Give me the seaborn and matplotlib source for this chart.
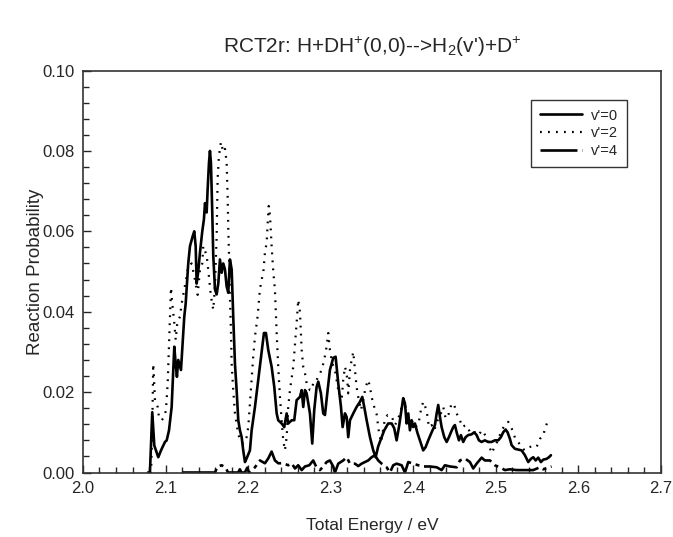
import numpy as np
import pandas as pd
import seaborn as sns
import matplotlib.pyplot as plt
from matplotlib.ticker import MultipleLocator

# v'=0 (solid)
e_v0 = [2.0787, 2.0811, 2.0839, 2.0864, 2.0912, 2.0945, 2.0993, 2.1014, 2.1042, 2.1074,
        2.1106, 2.1123, 2.1138, 2.1154, 2.1187, 2.1207, 2.1227, 2.1244, 2.1275, 2.1296,
        2.1329, 2.1348, 2.1365, 2.1377, 2.1396, 2.1417, 2.1445, 2.1465, 2.1478, 2.1498,
        2.1510, 2.1526, 2.1538, 2.1550, 2.1566, 2.1578, 2.1599, 2.1619, 2.1639, 2.1659,
        2.1680, 2.1699, 2.1720, 2.1740, 2.1760, 2.1780, 2.1801, 2.1820, 2.1841, 2.1861,
        2.1881, 2.1901, 2.1922, 2.1941, 2.1962, 2.1982, 2.2022, 2.2043, 2.2083, 2.2123,
        2.2164, 2.2192, 2.2216, 2.2244, 2.2285, 2.2317, 2.2346, 2.2365, 2.2406, 2.2438,
        2.2467, 2.2486, 2.2528, 2.2559, 2.2588, 2.2628, 2.2649, 2.2668, 2.2689, 2.2709,
        2.2749, 2.2777, 2.2801, 2.2830, 2.2850, 2.2882, 2.2910, 2.2931, 2.2959, 2.2991,
        2.3031, 2.3060, 2.3092, 2.3125, 2.3145, 2.3173, 2.3194, 2.3213, 2.3234, 2.3274,
        2.3314, 2.3355, 2.3383, 2.3407, 2.3436, 2.3476, 2.3516, 2.3545, 2.3576, 2.3618,
        2.3649, 2.3697, 2.3739, 2.3770, 2.3799, 2.3827, 2.3851, 2.3879, 2.3900, 2.3920,
        2.3940, 2.3960, 2.3981, 2.4000, 2.4021, 2.4049, 2.4081, 2.4121, 2.4150, 2.4182,
        2.4223, 2.4263, 2.4284, 2.4303, 2.4324, 2.4344, 2.4376, 2.4405, 2.4433, 2.4457,
        2.4485, 2.4505, 2.4526, 2.4554, 2.4578, 2.4606, 2.4635, 2.4666, 2.4707, 2.4739,
        2.4768, 2.4796, 2.4828, 2.4868, 2.4908, 2.4949, 2.4989, 2.5030, 2.5062, 2.5090,
        2.5119, 2.5143, 2.5171, 2.5192, 2.5232, 2.5272, 2.5313, 2.5353, 2.5393, 2.5426,
        2.5454, 2.5483, 2.5514, 2.5547, 2.5575, 2.5616, 2.5644, 2.5668]
p_v0 = [0.0, 0.0, 0.015, 0.0067, 0.0038, 0.0055, 0.0076, 0.008, 0.0105, 0.0163,
        0.0313, 0.027, 0.0238, 0.028, 0.0255, 0.032, 0.0388, 0.042, 0.052, 0.0563,
        0.0588, 0.060, 0.0563, 0.047, 0.050, 0.0547, 0.060, 0.063, 0.067, 0.0647,
        0.0705, 0.077, 0.080, 0.077, 0.0647, 0.054, 0.0455, 0.0443, 0.047, 0.053,
        0.0497, 0.052, 0.0505, 0.0463, 0.0447, 0.053, 0.0505, 0.0388, 0.027, 0.0205,
        0.013, 0.0105, 0.0088, 0.0055, 0.0026, 0.0035, 0.0055, 0.0105, 0.0163, 0.023,
        0.0297, 0.0347, 0.0347, 0.0305, 0.0263, 0.0213, 0.0147, 0.013, 0.0122, 0.0113,
        0.0147, 0.0122, 0.013, 0.013, 0.018, 0.0188, 0.0205, 0.0163, 0.0205, 0.0197,
        0.0147, 0.0072, 0.0155, 0.0213, 0.0226, 0.0197, 0.0147, 0.0143, 0.0197, 0.0255,
        0.0285, 0.0288, 0.0222, 0.0163, 0.0113, 0.0147, 0.0138, 0.0088, 0.013, 0.0147,
        0.0163, 0.0176, 0.0188, 0.0163, 0.013, 0.0088, 0.0055, 0.0038, 0.0065, 0.0088,
        0.0105, 0.0122, 0.0122, 0.011, 0.008, 0.0113, 0.0147, 0.0185, 0.0172, 0.0122,
        0.0147, 0.0105, 0.013, 0.0113, 0.0122, 0.010, 0.008, 0.0055, 0.0063, 0.008,
        0.010, 0.0118, 0.0147, 0.0168, 0.0138, 0.0113, 0.0088, 0.0076, 0.0088, 0.010,
        0.0113, 0.0118, 0.010, 0.008, 0.0093, 0.0076, 0.0088, 0.0093, 0.0095, 0.010,
        0.0093, 0.008, 0.0076, 0.008, 0.0076, 0.0076, 0.008, 0.008, 0.0088, 0.010,
        0.0107, 0.010, 0.0084, 0.0068, 0.0059, 0.0057, 0.0055, 0.0043, 0.0026, 0.0034,
        0.0038, 0.003, 0.0037, 0.0026, 0.0032, 0.0034, 0.0038, 0.0043]

# v'=2 (dotted)
e_v2 = [2.0811, 2.0825, 2.0840, 2.0851, 2.0872, 2.0905, 2.0920, 2.0953, 2.0985, 2.1005,
        2.1026, 2.1042, 2.1054, 2.1066, 2.1082, 2.1106, 2.1123, 2.1142, 2.1175, 2.1195,
        2.1227, 2.1256, 2.1275, 2.1316, 2.1356, 2.1389, 2.1417, 2.1445, 2.1457, 2.1498,
        2.1517, 2.1550, 2.1578, 2.1599, 2.1619, 2.1631, 2.1647, 2.1671, 2.1699, 2.1720,
        2.1740, 2.1752, 2.1760, 2.1772, 2.1780, 2.1792, 2.1801, 2.1820, 2.1841, 2.1873,
        2.1901, 2.1941, 2.1982, 2.2002, 2.2022, 2.2043, 2.2062, 2.2083, 2.2115, 2.2143,
        2.2164, 2.2184, 2.2204, 2.2225, 2.2240, 2.2250, 2.2265, 2.2285, 2.2305, 2.2325,
        2.2346, 2.2365, 2.2386, 2.2406, 2.2426, 2.2446, 2.2467, 2.2486, 2.2507, 2.2547,
        2.2588, 2.2607, 2.2628, 2.2649, 2.2668, 2.2689, 2.2709, 2.2728, 2.2749, 2.2770,
        2.2789, 2.2810, 2.2850, 2.2891, 2.2922, 2.2951, 2.2971, 2.2991, 2.3019, 2.3052,
        2.3072, 2.3092, 2.3133, 2.3152, 2.3173, 2.3194, 2.3213, 2.3234, 2.3254, 2.3274,
        2.3294, 2.3314, 2.3334, 2.3367, 2.3395, 2.3424, 2.3455, 2.3476, 2.3496, 2.3528,
        2.3557, 2.3585, 2.3610, 2.3638, 2.3658, 2.3690, 2.3739, 2.3779, 2.3812, 2.3851,
        2.3879, 2.3908, 2.3940, 2.3981, 2.4021, 2.4061, 2.4093, 2.4121, 2.4162, 2.4190,
        2.4223, 2.4254, 2.4303, 2.4335, 2.4364, 2.4393, 2.4433, 2.4465, 2.4497, 2.4526,
        2.4566, 2.4594, 2.4635, 2.4675, 2.4707, 2.4748, 2.4787, 2.4836, 2.4889, 2.4949,
        2.4989, 2.5030, 2.5071, 2.5111, 2.5151, 2.5192, 2.5232, 2.5272, 2.5313, 2.5353,
        2.5393, 2.5434, 2.5494, 2.5535, 2.5575, 2.5595, 2.5628, 2.5644]
p_v2 = [0.0, 0.0, 0.012, 0.027, 0.018, 0.0163, 0.0138, 0.013, 0.0138, 0.0155,
        0.0222, 0.032, 0.0388, 0.046, 0.042, 0.0372, 0.033, 0.0372, 0.0388, 0.042,
        0.0455, 0.0488, 0.0513, 0.052, 0.048, 0.0442, 0.0505, 0.052, 0.0563, 0.054,
        0.0505, 0.0438, 0.0405, 0.0463, 0.0588, 0.073, 0.0788, 0.0822, 0.0797, 0.0805,
        0.0772, 0.0688, 0.0605, 0.052, 0.0438, 0.0355, 0.027, 0.0205, 0.0147, 0.0105,
        0.008, 0.0072, 0.0088, 0.0113, 0.0172, 0.023, 0.0288, 0.0338, 0.0388, 0.0455,
        0.048, 0.0497, 0.0547, 0.0572, 0.063, 0.0663, 0.064, 0.0563, 0.050, 0.0455,
        0.0347, 0.0263, 0.0188, 0.013, 0.008, 0.0055, 0.0088, 0.0163, 0.0205, 0.0263,
        0.0372, 0.043, 0.040, 0.0305, 0.0263, 0.0247, 0.0222, 0.0213, 0.0205, 0.0205,
        0.0222, 0.0222, 0.0238, 0.0255, 0.028, 0.0313, 0.0347, 0.0305, 0.0272, 0.0255,
        0.023, 0.0205, 0.018, 0.023, 0.0263, 0.0247, 0.0197, 0.0255, 0.028, 0.030,
        0.0255, 0.0213, 0.0188, 0.0155, 0.018, 0.0213, 0.023, 0.0213, 0.0188, 0.0163,
        0.0145, 0.010, 0.0075, 0.011, 0.0134, 0.0143, 0.014, 0.0118, 0.013, 0.0155,
        0.018, 0.0163, 0.0143, 0.013, 0.0113, 0.0118, 0.0155, 0.0176, 0.0155, 0.0113,
        0.0118, 0.0105, 0.0134, 0.0147, 0.0163, 0.0134, 0.0147, 0.0172, 0.0168, 0.0147,
        0.013, 0.0113, 0.0118, 0.0105, 0.0095, 0.010, 0.0093, 0.0105, 0.0087, 0.0048,
        0.0065, 0.0082, 0.0105, 0.0118, 0.0126, 0.011, 0.0087, 0.0076, 0.0062, 0.0055,
        0.0062, 0.0065, 0.0063, 0.0084, 0.009, 0.011, 0.0126, 0.0126]

# v'=4 (dash-dot)
e_v4 = [2.1200, 2.1599, 2.1630, 2.1680, 2.1730, 2.1756, 2.1880, 2.1900, 2.1920, 2.1960,
        2.1990, 2.2010, 2.2022, 2.2083, 2.2143, 2.2204, 2.2244, 2.2285, 2.2325, 2.2365,
        2.2426, 2.2486, 2.2528, 2.2568, 2.2607, 2.2649, 2.2689, 2.2741, 2.2789, 2.2830,
        2.2870, 2.2910, 2.2951, 2.2991, 2.3031, 2.3052, 2.3092, 2.3152, 2.3194, 2.3234,
        2.3294, 2.3334, 2.3375, 2.3415, 2.3455, 2.3496, 2.3536, 2.3576, 2.3618, 2.3678,
        2.3718, 2.3758, 2.3799, 2.3860, 2.3900, 2.3940, 2.4000, 2.4061, 2.4121, 2.4202,
        2.4284, 2.4344, 2.4384, 2.4445, 2.4526, 2.4566, 2.4626, 2.4687, 2.4727, 2.4768,
        2.4829, 2.4868, 2.4929, 2.4989, 2.5050, 2.5111, 2.5171, 2.5252, 2.5374, 2.5454,
        2.5535, 2.5575, 2.5635, 2.5676]
p_v4 = [0.0, 0.0, 0.0015, 0.0018, 0.0012, 0.0, 0.0, 0.0008, 0.0, 0.0,
        0.0012, 0.0, 0.0, 0.0013, 0.003, 0.0023, 0.0035, 0.0052, 0.003, 0.0023,
        0.0023, 0.0018, 0.0023, 0.001, 0.0018, 0.0006, 0.0015, 0.0018, 0.003, 0.0012,
        0.0006, 0.0015, 0.0026, 0.003, 0.0015, 0.0, 0.0022, 0.003, 0.0038, 0.0022,
        0.0022, 0.0016, 0.0022, 0.0026, 0.003, 0.0038, 0.0043, 0.003, 0.0022, 0.0013,
        0.0, 0.0018, 0.0022, 0.0018, 0.0, 0.0026, 0.0022, 0.0018, 0.0015, 0.0015,
        0.0013, 0.0006, 0.0018, 0.0015, 0.0013, 0.003, 0.0035, 0.0026, 0.001, 0.0022,
        0.0037, 0.003, 0.003, 0.0018, 0.0013, 0.0006, 0.0008, 0.0006, 0.0006, 0.0006,
        0.0013, 0.0008, 0.0012, 0.0015]

sns.set_style('ticks')
plt.rcParams['font.family'] = ['Liberation Sans', 'DejaVu Sans']
plt.rcParams['mathtext.fontset'] = 'custom'
plt.rcParams['mathtext.rm'] = 'Liberation Sans'
plt.rcParams['mathtext.it'] = 'Liberation Sans:italic'

fig = plt.figure(figsize=(6.73, 5.37), dpi=100)
ax = fig.add_axes([0.1233, 0.1201, 0.8587, 0.7486])

sns.lineplot(x=e_v0, y=p_v0, ax=ax, color='black', linewidth=1.9, label="v'=0")
sns.lineplot(x=e_v2, y=p_v2, ax=ax, color='black', linewidth=1.6,
             linestyle=(0, (0.8, 2.8)), label="v'=2")
sns.lineplot(x=e_v4, y=p_v4, ax=ax, color='black', linewidth=1.9,
             linestyle=(0, (14, 1.8, 1.5, 1.8)), label="v'=4")

ax.set_xlim(2.0, 2.7)
ax.set_ylim(0.0, 0.10)
ax.xaxis.set_major_locator(MultipleLocator(0.1))
ax.xaxis.set_minor_locator(MultipleLocator(0.02))
ax.yaxis.set_major_locator(MultipleLocator(0.02))
ax.yaxis.set_minor_locator(MultipleLocator(0.004))
ax.xaxis.set_major_formatter(plt.FormatStrFormatter('%.1f'))
ax.yaxis.set_major_formatter(plt.FormatStrFormatter('%.2f'))
ax.tick_params(which='major', direction='in', length=6, width=1, labelsize=12, pad=6)
ax.tick_params(which='minor', direction='in', length=4, width=1)
for s in ax.spines.values():
    s.set_linewidth(1.2)
    s.set_color('#333333')

ax.set_xlabel('Total Energy / eV', fontsize=12.5, labelpad=16)
ax.set_ylabel('Reaction Probability', fontsize=13.5, labelpad=-1)
fig.suptitle("RCT2r: H+DH$^{+}$(0,0)-->H$_2$(v')+D$^{+}$", fontsize=15, x=0.553, y=0.935)

leg = ax.legend(loc='upper left', bbox_to_anchor=(0.775, 0.927), frameon=True,
                fancybox=False, edgecolor='black', fontsize=10.5, handlelength=2.9,
                borderpad=0.6, labelspacing=0.25, handletextpad=0.6, borderaxespad=0)
leg.get_frame().set_linewidth(1.0)

fig.savefig('out.png', dpi=100)
